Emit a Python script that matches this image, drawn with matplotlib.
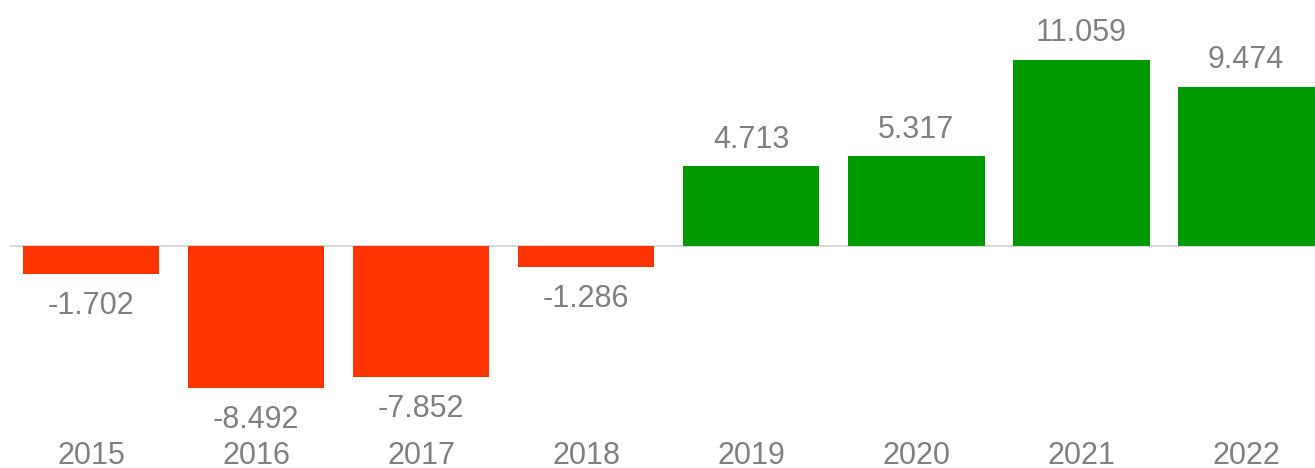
import matplotlib.pyplot as plt

plt.rcParams['font.family'] = ['Liberation Sans', 'DejaVu Sans']

years = ['2015', '2016', '2017', '2018', '2019', '2020', '2021', '2022']
values = [-1.702, -8.492, -7.852, -1.286, 4.713, 5.317, 11.059, 9.474]
labels = ['-1.702', '-8.492', '-7.852', '-1.286', '4.713', '5.317', '11.059', '9.474']

red = '#FF3300'
green = '#009900'
gray = '#808080'

fig = plt.figure(figsize=(13.15, 4.68), dpi=100)
# axes spans x 10..1315 px, y 0..440 px from top
ax = fig.add_axes([10 / 1315, 28 / 468, 1305 / 1315, 440 / 468])

x = list(range(len(years)))
colors = [green if v >= 0 else red for v in values]
ax.bar(x, values, width=0.83, color=colors, zorder=2)

ax.axhline(0, color='#d9d9d9', linewidth=1.5, zorder=1)

# value labels, placed by baseline
for xi, v, lab in zip(x, values, labels):
    off = 13.5 if v >= 0 else -28.8
    ax.annotate(lab, (xi, v), xytext=(0, off), textcoords='offset points',
                ha='center', va='baseline', fontsize=22, color=gray)

ax.set_xlim(-0.491, 7.418)
ax.set_ylim(-11.59, 14.63)
ax.set_xticks(x)
ax.set_xticklabels(years, fontsize=22, color=gray)
ax.tick_params(axis='x', length=0, pad=1)
ax.set_yticks([])
for s in ax.spines.values():
    s.set_visible(False)

fig.savefig('out.png', dpi=100)
